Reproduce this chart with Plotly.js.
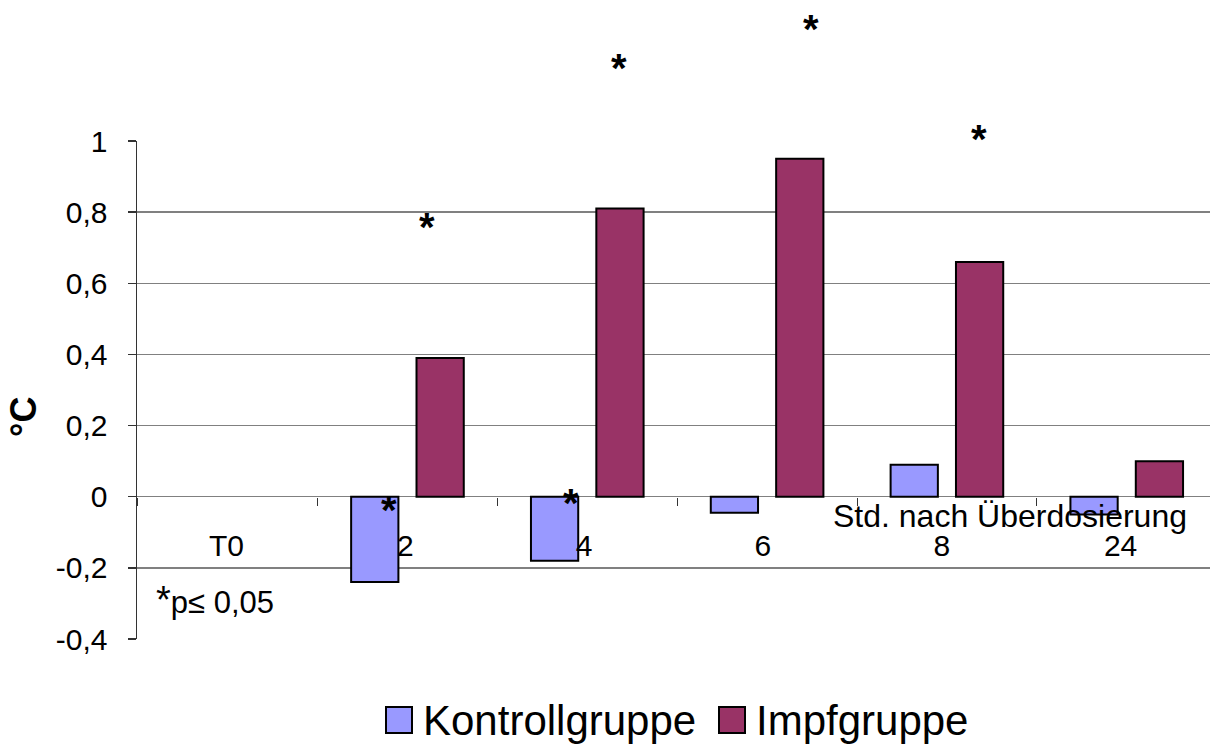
<!DOCTYPE html>
<html>
<head>
<meta charset="utf-8">
<script src="https://cdn.plot.ly/plotly-3.0.1.min.js"></script>
<style>
  html, body { margin: 0; padding: 0; background: #fff; overflow: hidden; }
  #chart { width: 1213px; height: 744px; }
</style>
</head>
<body>
<div id="chart"></div>
<script>
// ---- data ----
const categories = ['T0', '2', '4', '6', '8', '24'];
const kontrollgruppe = [null, -0.24, -0.18, -0.045, 0.09, -0.05];
const impfgruppe = [null, 0.39, 0.81, 0.95, 0.66, 0.10];
const seriesNames = ['Kontrollgruppe', 'Impfgruppe'];
const yTickVals = [-0.4, -0.2, 0, 0.2, 0.4, 0.6, 0.8, 1];
const yTickText = ['-0,4', '-0,2', '0', '0,2', '0,4', '0,6', '0,8', '1'];
const xTitle = 'Std. nach Überdosierung';
const yTitle = '°C';
const noteText = '<span style="font-size:38px">*</span>p≤ 0,05';

// ---- styling ----
const FONT = 'Liberation Sans, Arial, sans-serif';
const colors = ['#9999FF', '#993366'];
const L = 137, R = 1210, T = 141, B = 639;
const px = x => (x - L) / (R - L);
const py = y => (B - y) / (B - T);
const zeroPos = 0.4 / 1.4;

const traces = [kontrollgruppe, impfgruppe].map((vals, i) => ({
  type: 'bar',
  x: categories,
  y: vals,
  xaxis: 'x',
  name: seriesNames[i],
  showlegend: false,
  marker: { color: colors[i], line: { color: '#000', width: 2 } },
  hoverinfo: 'x+y+name'
}));
// empty helper trace so that the label axis (x2) is drawn
traces.push({
  type: 'scatter', mode: 'none', xaxis: 'x2', yaxis: 'y',
  x: categories.map((c, i) => i), y: categories.map(() => null),
  showlegend: false, hoverinfo: 'skip'
});

// significance stars (pixel positions of glyph centres)
const stars = [[389, 505], [427, 222], [571, 498], [619, 63], [811, 24], [979, 134]];
const annotations = stars.map(([x, y]) => ({
  xref: 'paper', yref: 'paper', x: px(x), y: py(y + 5),
  text: '*', showarrow: false, xanchor: 'center', yanchor: 'middle',
  font: { family: FONT, size: 40, color: '#000', weight: 'bold' }
}));

annotations.push({
  xref: 'paper', yref: 'paper', x: px(1010), y: py(516),
  text: xTitle, showarrow: false, xanchor: 'center', yanchor: 'middle',
  font: { family: FONT, size: 32, color: '#000' }
});
annotations.push({
  xref: 'paper', yref: 'paper', x: px(154), y: py(600),
  text: noteText, showarrow: false, xanchor: 'left', yanchor: 'middle',
  font: { family: FONT, size: 31, color: '#000' }
});
annotations.push({
  xref: 'paper', yref: 'paper', x: px(23), y: py(417),
  text: yTitle, showarrow: false, xanchor: 'center', yanchor: 'middle', textangle: -90,
  font: { family: FONT, size: 36, color: '#000', weight: 'bold' }
});

// manual legend (large square keys)
const shapes = [];
const legendItems = [[386, 424], [719, 757]];
legendItems.forEach(([sx, tx], i) => {
  shapes.push({
    type: 'rect', xref: 'paper', yref: 'paper',
    x0: px(sx), x1: px(sx + 26), y0: py(707), y1: py(733),
    fillcolor: colors[i], line: { color: '#000', width: 2 }
  });
  annotations.push({
    xref: 'paper', yref: 'paper', x: px(tx - 3), y: py(720),
    text: seriesNames[i], showarrow: false, xanchor: 'left', yanchor: 'middle',
    font: { family: FONT, size: 42, color: '#000' }
  });
});

const layout = {
  width: 1213, height: 744,
  margin: { l: L, r: 1213 - R, t: T, b: 744 - B, pad: 0, autoexpand: false },
  paper_bgcolor: '#fff', plot_bgcolor: '#fff',
  font: { family: FONT, size: 30, color: '#000' },
  barmode: 'group', bargap: 0.273, bargroupgap: 0.277,
  showlegend: false,
  // axis carrying the bars (slightly wider category spacing, as in the original)
  xaxis: {
    type: 'category', anchor: 'free', position: zeroPos, automargin: false,
    range: [-0.504, 5.463],
    showgrid: false, showline: false, zeroline: false,
    ticks: 'outside', tickson: 'boundaries', ticklen: 8, tickwidth: 1, tickcolor: '#333',
    showticklabels: false
  },
  // axis carrying the category labels
  xaxis2: {
    type: 'linear', overlaying: 'x', anchor: 'free', position: zeroPos, automargin: false,
    range: [-0.5, 5.5], tickmode: 'array',
    tickvals: categories.map((c, i) => i), ticktext: categories,
    showgrid: false, showline: false, zeroline: false,
    ticks: 'outside', ticklen: 8, tickwidth: 1, tickcolor: 'rgba(0,0,0,0)',
    ticklabelstandoff: 14,
    tickfont: { family: FONT, size: 30, color: '#000' }
  },
  yaxis: {
    range: [-0.4, 1], tickvals: yTickVals, ticktext: yTickText, automargin: false,
    showgrid: true, gridcolor: '#808080', gridwidth: 1.5,
    zeroline: true, zerolinecolor: '#808080', zerolinewidth: 1.5,
    showline: true, linecolor: '#333', linewidth: 1.5,
    ticks: 'outside', ticklen: 8, tickwidth: 1.5, tickcolor: '#333',
    ticklabelstandoff: 14,
    tickfont: { family: FONT, size: 30, color: '#000' }
  },
  annotations: annotations,
  shapes: shapes
};

Plotly.newPlot('chart', traces, layout, { displayModeBar: false, staticPlot: true });
</script>
</body>
</html>
